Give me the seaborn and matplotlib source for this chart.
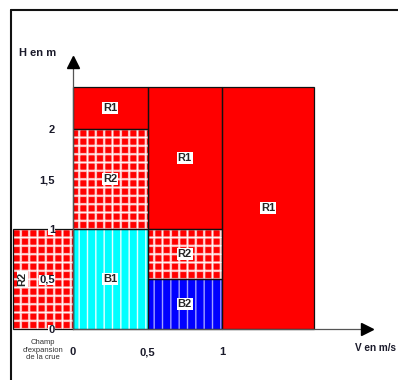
import matplotlib
matplotlib.use('Agg')
import matplotlib.pyplot as plt
from matplotlib.patches import Rectangle
from matplotlib.lines import Line2D
import seaborn as sns

# zones d'alea (vitesse en m/s, hauteur en m)
zones = ['R1', 'R2', 'B1', 'R1', 'R2', 'B2', 'R1', 'R2']
v_min = [0, 0, 0, 0.5, 0.5, 0.5, 1, -0.4]
v_max = [0.5, 0.5, 0.5, 1, 1, 1, 1.62, 0]
h_min = [2, 1, 0, 1, 0.5, 0, 0, 0]
h_max = [2.42, 2, 1, 2.42, 1, 0.5, 2.42, 1]

h_ticks = [0, 0.5, 1, 1.5, 2]
h_labels = ['0', '0,5', '1', '1,5', '2']
v_ticks = [0, 0.5, 1]
v_labels = ['0', '0,5', '1']

sns.set_style('white')
plt.rcParams['font.family'] = ['Liberation Sans', 'DejaVu Sans']

# style de chaque type de zone : fond + couches de hachures (motif, couleur, epaisseur)
styles = {
    'R1': ('#ff0000', []),
    'R2': ('#ff0000', [('++', '#ffa0a0', 1.8), ('++', '#ffffff', 0.6)]),
    'B1': ('#00ffff', [('||', '#e4ffff', 1.0)]),
    'B2': ('#0000ff', [('||', '#a0a0ff', 1.0)]),
}


def hatch_patch(ax, xy, w, h, hatch, color, lw):
    plt.rcParams['hatch.linewidth'] = lw
    p = Rectangle(xy, w, h, fill=False, edgecolor=color, hatch=hatch,
                  linewidth=0, clip_on=False, zorder=1.2)
    if hasattr(p, 'set_hatch_linewidth'):
        p.set_hatch_linewidth(lw)
    ax.add_patch(p)


fig = plt.figure(figsize=(3.98, 3.80), dpi=100)
ax = fig.add_axes([73/398, 51/380, 299/398, 272/380])
ax.set_xlim(0, 299/149)
ax.set_ylim(0, 2.72)
ax.set_axisbelow(False)

for z, a, b, c, d in zip(zones, v_min, v_max, h_min, h_max):
    fc, layers = styles[z]
    ax.add_patch(Rectangle((a, c), b - a, d - c, facecolor=fc, edgecolor='none',
                           linewidth=0, clip_on=False, zorder=1))
    for hatch, col, lw in layers:
        hatch_patch(ax, (a, c), b - a, d - c, hatch, col, lw)
    ax.add_patch(Rectangle((a, c), b - a, d - c, fill=False, edgecolor='#111111',
                           linewidth=0.9, clip_on=False, zorder=2))
    if a < 0:
        ax.text(a + 0.06, (c + d) / 2, z, rotation=90, ha='center', va='center',
                fontsize=8, fontweight='bold', zorder=4,
                bbox=dict(facecolor='white', edgecolor='none', pad=0.6))
    else:
        ax.text((a + b) / 2, (c + d) / 2, z, ha='center', va='center',
                fontsize=8, fontweight='bold', zorder=4,
                bbox=dict(facecolor='white', edgecolor='none', pad=0.6))

sns.despine(ax=ax)
for s in ['left', 'bottom']:
    ax.spines[s].set_color('#555555')
    ax.spines[s].set_linewidth(0.9)

ax.set_yticks(h_ticks)
ax.set_yticklabels(h_labels)
ax.set_xticks(v_ticks)
ax.set_xticklabels(v_labels)
ax.tick_params(axis='both', direction='out', length=7, width=0.9, color='#333333',
               labelsize=8, labelcolor='#1a1a2a')
ax.tick_params(axis='y', pad=6)
ax.tick_params(axis='x', pad=6)
for lab in ax.get_yticklabels() + ax.get_xticklabels():
    lab.set_fontweight('bold')
for lab in ax.get_yticklabels():
    lab.set_bbox(dict(facecolor='white', edgecolor='none', pad=0.3))

# fleches des axes
ax.plot([1.973], [0], marker='>', markersize=9, color='black', clip_on=False, zorder=5)
ax.plot([0], [2.67], marker='^', markersize=9, color='black', clip_on=False, zorder=5)

ax.text(-0.24, 2.76, 'H en m', ha='center', va='center', fontsize=8,
        fontweight='bold', color='#1a1a2a')
ax.text(1.893, -0.19, 'V en m/s', ha='left', va='center', fontsize=7.2,
        fontweight='bold', color='#1a1a2a')
ax.text(-0.20, -0.21, "Champ\nd'expansion\nde la crue", ha='center', va='center',
        fontsize=5.5, color='#333333', linespacing=1.15)

# cadre
fig.add_artist(Line2D([11/398, 1], [1 - 10/380, 1 - 10/380], color='#111111', lw=1.5))
fig.add_artist(Line2D([11/398, 11/398], [0, 1 - 10/380], color='#111111', lw=1.5))

plt.savefig('out.png', dpi=100)
plt.close()
